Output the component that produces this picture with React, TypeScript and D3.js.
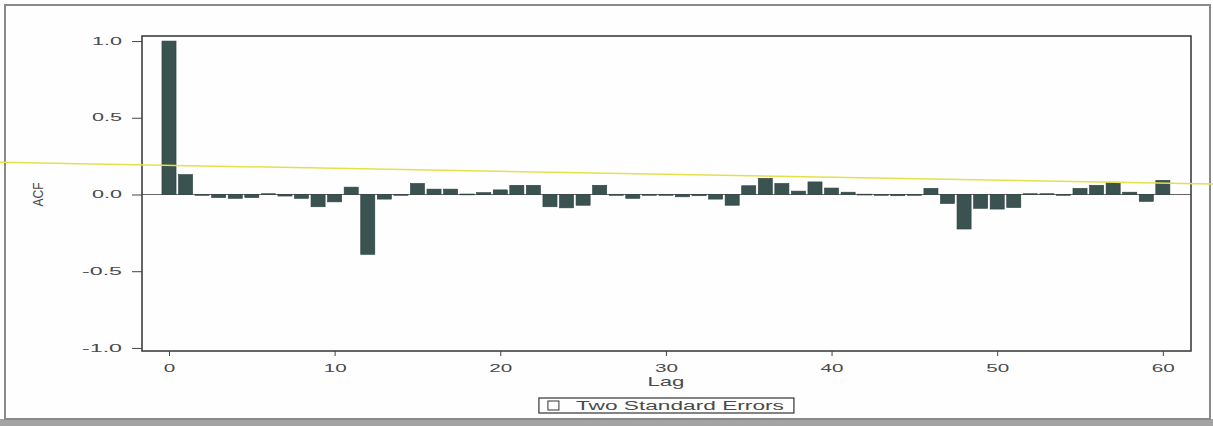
import * as d3 from 'd3';
import { useEffect, useRef } from 'react';

// ACF estimates by lag (lag = index)
const acfValues: number[] = [
  1.0, 0.13, 0.0, -0.02, -0.025, -0.02, 0.005, -0.01, -0.025, -0.08,
  -0.048, 0.048, -0.39, -0.03, 0.0, 0.072, 0.035, 0.035, 0.003, 0.012,
  0.03, 0.06, 0.06, -0.08, -0.087, -0.07, 0.06, -0.005, -0.025, -0.005,
  0.0, -0.015, -0.008, -0.03, -0.07, 0.057, 0.105, 0.072, 0.022, 0.082,
  0.042, 0.015, 0.002, 0.0, -0.008, -0.005, 0.04, -0.059, -0.225, -0.09,
  -0.095, -0.085, 0.005, 0.005, 0.0, 0.04, 0.06, 0.08, 0.015, -0.045,
  0.092,
];
const lags: number[] = acfValues.map((_, i) => i);

const xTicks: number[] = [0, 10, 20, 30, 40, 50, 60];
const yTicks: number[] = [-1.0, -0.5, 0.0, 0.5, 1.0];
const xDomain: [number, number] = [-1.63, 61.7];
const yDomain: [number, number] = [-1.02, 1.033];

// the yellow line that crosses the page (lag, acf) at its two ends
const refLine: [number, number][] = [
  [-10.2, 0.21],
  [63.0, 0.068],
];

const legendLabel = 'Two Standard Errors';

export default function App() {
  const chartRef = useRef<SVGSVGElement>(null);

  const width = 1213;
  const height = 426;
  const margin = { top: 36, bottom: 75, left: 142, right: 22 };

  useEffect(() => {
    const svg = d3.select(chartRef.current);
    svg.selectAll('*').remove();

    const font = '"Liberation Sans", Arial, sans-serif';
    const textColor = '#4a4a4a';

    const xScale = d3
      .scaleLinear()
      .domain(xDomain)
      .range([margin.left, width - margin.right]);
    const yScale = d3
      .scaleLinear()
      .domain(yDomain)
      .range([height - margin.bottom, margin.top]);

    // page background and outer frame
    svg
      .append('rect')
      .attr('x', 0)
      .attr('y', 0)
      .attr('width', width)
      .attr('height', height)
      .attr('fill', '#fefefe');
    svg
      .append('rect')
      .attr('x', 0)
      .attr('y', height - 7)
      .attr('width', width)
      .attr('height', 7)
      .attr('fill', '#a3a3a3');
    svg
      .append('rect')
      .attr('x', 5)
      .attr('y', 5)
      .attr('width', width - 8)
      .attr('height', height - 12)
      .attr('fill', 'none')
      .attr('stroke', '#8a8a8a')
      .attr('stroke-width', 2);

    // zero line
    svg
      .append('line')
      .attr('x1', xScale(xDomain[0]))
      .attr('x2', xScale(xDomain[1]))
      .attr('y1', yScale(0))
      .attr('y2', yScale(0))
      .attr('stroke', '#666')
      .attr('stroke-width', 1);

    // bars
    const barW = xScale(0.85) - xScale(0);
    svg
      .append('g')
      .selectAll('rect')
      .data(lags)
      .enter()
      .append('rect')
      .attr('x', (d) => xScale(d) - barW / 2)
      .attr('y', (d) => yScale(Math.max(0, acfValues[d])))
      .attr('width', barW)
      .attr('height', (d) =>
        Math.max(0.8, Math.abs(yScale(acfValues[d]) - yScale(0))),
      )
      .attr('fill', '#3a5351')
      .attr('stroke', '#2c3f3e')
      .attr('stroke-width', 0.6);

    // plot box
    svg
      .append('rect')
      .attr('x', xScale(xDomain[0]))
      .attr('y', yScale(yDomain[1]))
      .attr('width', xScale(xDomain[1]) - xScale(xDomain[0]))
      .attr('height', yScale(yDomain[0]) - yScale(yDomain[1]))
      .attr('fill', 'none')
      .attr('stroke', '#333')
      .attr('stroke-width', 1.5);

    // y axis
    const yAxis = d3
      .axisLeft(yScale)
      .tickValues(yTicks)
      .tickSize(10)
      .tickPadding(10)
      .tickFormat((d) => (d as number).toFixed(1));
    const yg = svg
      .append('g')
      .attr('transform', `translate(${margin.left},0)`)
      .call(yAxis);
    yg.select('.domain').remove();
    yg.selectAll('line').attr('stroke', '#444');
    yg.selectAll('text')
      .attr('font-family', font)
      .attr('font-size', 10)
      .attr('fill', textColor)
      .attr('lengthAdjust', 'spacingAndGlyphs')
      .attr('textLength', function () {
        const t = (this as SVGTextElement).textContent || '';
        return t.length * 10;
      });

    // x axis
    const xAxis = d3
      .axisBottom(xScale)
      .tickValues(xTicks)
      .tickSize(5)
      .tickPadding(8)
      .tickFormat((d) => String(d));
    const xg = svg
      .append('g')
      .attr('transform', `translate(0,${height - margin.bottom})`)
      .call(xAxis);
    xg.select('.domain').remove();
    xg.selectAll('line').attr('stroke', '#444');
    xg.selectAll('text')
      .attr('font-family', font)
      .attr('font-size', 11)
      .attr('fill', textColor)
      .attr('lengthAdjust', 'spacingAndGlyphs')
      .attr('textLength', function () {
        const t = (this as SVGTextElement).textContent || '';
        return t.length * 11.5;
      });

    // axis titles
    svg
      .append('text')
      .text('Lag')
      .attr('x', xScale(30))
      .attr('y', height - margin.bottom + 35)
      .attr('text-anchor', 'middle')
      .attr('font-family', font)
      .attr('font-size', 13)
      .attr('fill', textColor)
      .attr('lengthAdjust', 'spacingAndGlyphs')
      .attr('textLength', 37);
    svg
      .append('text')
      .text('ACF')
      .attr(
        'transform',
        `translate(${margin.left - 99},${yScale(0)}) rotate(-90)`,
      )
      .attr('text-anchor', 'middle')
      .attr('font-family', font)
      .attr('font-size', 15)
      .attr('fill', textColor)
      .attr('lengthAdjust', 'spacingAndGlyphs')
      .attr('textLength', 24);

    // legend
    const lg = svg
      .append('g')
      .attr('transform', `translate(${xScale(30) - 127},${height - 28})`);
    lg.append('rect')
      .attr('width', 255)
      .attr('height', 15)
      .attr('fill', 'none')
      .attr('stroke', '#333')
      .attr('stroke-width', 1.2);
    lg.append('rect')
      .attr('x', 9)
      .attr('y', 3)
      .attr('width', 11)
      .attr('height', 9)
      .attr('fill', 'none')
      .attr('stroke', '#333')
      .attr('stroke-width', 1);
    lg.append('text')
      .text(legendLabel)
      .attr('x', 37)
      .attr('y', 12)
      .attr('font-family', font)
      .attr('font-size', 12.5)
      .attr('fill', textColor)
      .attr('lengthAdjust', 'spacingAndGlyphs')
      .attr('textLength', 208);

    // yellow line across the page
    svg
      .append('line')
      .attr('x1', xScale(refLine[0][0]))
      .attr('y1', yScale(refLine[0][1]))
      .attr('x2', xScale(refLine[1][0]))
      .attr('y2', yScale(refLine[1][1]))
      .attr('stroke', '#e4e04c')
      .attr('stroke-width', 1.5);
  }, []);

  return (
    <svg
      ref={chartRef}
      width={width}
      height={height}
      style={{ position: 'absolute', left: 0, top: 0, display: 'block' }}
    />
  );
}
